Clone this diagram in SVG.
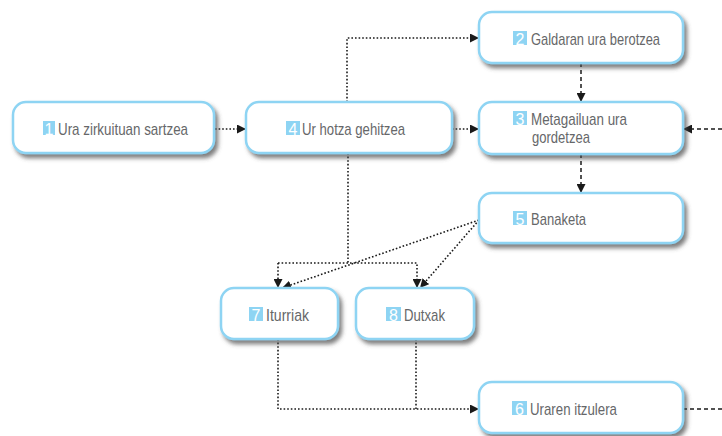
<svg xmlns="http://www.w3.org/2000/svg" width="722" height="436" viewBox="0 0 722 436">
  <defs>
    <filter id="shadow" x="-10%" y="-20%" width="130%" height="160%">
      <feDropShadow dx="3" dy="4" stdDeviation="2.2" flood-color="#4a4a4a" flood-opacity="0.7"/>
    </filter>
    <marker id="arrow" viewBox="0 0 10 10" refX="10" refY="5" markerWidth="9" markerHeight="9" markerUnits="userSpaceOnUse" orient="auto">
      <path d="M0,0 L10,5 L0,10 Z" fill="#1a1a1a"/>
    </marker>
  </defs>
  <style>
    .box { fill: #ffffff; stroke: #8ed4f3; stroke-width: 2.5; filter: url(#shadow); }
    .badge { fill: #8ed4f3; }
    .num { fill: #ffffff; font-family: "Liberation Sans Narrow", "Liberation Sans", sans-serif; font-size: 16px; text-anchor: middle; }
    .lbl { fill: #666769; font-family: "Liberation Sans Narrow", "Liberation Sans", sans-serif; font-size: 17px; }
    .dot { fill: none; stroke: #1a1a1a; stroke-width: 1.6; stroke-dasharray: 1.6 2; }
    .dash { fill: none; stroke: #1a1a1a; stroke-width: 1.5; stroke-dasharray: 4 3; }
  </style>

  <g id="connectors">
    <path class="dot" d="M215,129 H246" marker-end="url(#arrow)"/>
    <path class="dot" d="M452,129 H479" marker-end="url(#arrow)"/>
    <path class="dot" d="M347,102 V38 H479" marker-end="url(#arrow)"/>
    <path class="dash" d="M581,63 V102" marker-end="url(#arrow)"/>
    <path class="dash" d="M581,154 V193" marker-end="url(#arrow)"/>
    <path class="dash" d="M722,129 H683" marker-end="url(#arrow)"/>
    <path class="dash" d="M683,409 H722"/>
    <path class="dot" d="M348,153 V263"/>
    <path class="dot" d="M278,263 H417 V288" marker-end="url(#arrow)"/>
    <path class="dot" d="M278,263 V288" marker-end="url(#arrow)"/>
    <path class="dot" d="M479,220 L282,288" marker-end="url(#arrow)"/>
    <path class="dot" d="M479,220 L420,288" marker-end="url(#arrow)"/>
    <path class="dot" d="M278,339 V409 H479" marker-end="url(#arrow)"/>
    <path class="dot" d="M416,339 V409"/>
  </g>

  <g id="n1">
    <rect class="box" x="13" y="102" width="201" height="51" rx="13"/>
    <rect class="badge" x="43" y="121" width="12" height="14"/>
    <text class="num" x="49" y="134.5">1</text>
    <text class="lbl" x="58" y="134.5" textLength="130" lengthAdjust="spacingAndGlyphs">Ura zirkuituan sartzea</text>
  </g>
  <g id="n4">
    <rect class="box" x="246" y="102" width="206" height="51" rx="13"/>
    <rect class="badge" x="286" y="121" width="14" height="14"/>
    <text class="num" x="293" y="134.5">4</text>
    <text class="lbl" x="302" y="134.5" textLength="103" lengthAdjust="spacingAndGlyphs">Ur hotza gehitzea</text>
  </g>
  <g id="n2">
    <rect class="box" x="479" y="12" width="204" height="51" rx="13"/>
    <rect class="badge" x="513" y="31" width="14" height="14"/>
    <text class="num" x="520" y="44.5">2</text>
    <text class="lbl" x="531" y="44.5" textLength="129" lengthAdjust="spacingAndGlyphs">Galdaran ura berotzea</text>
  </g>
  <g id="n3">
    <rect class="box" x="479" y="102" width="204" height="52" rx="13"/>
    <rect class="badge" x="513" y="111" width="14" height="14"/>
    <text class="num" x="520" y="124.5">3</text>
    <text class="lbl" x="531" y="124.5" textLength="96" lengthAdjust="spacingAndGlyphs">Metagailuan ura</text>
    <text class="lbl" x="532" y="142.5" textLength="58" lengthAdjust="spacingAndGlyphs">gordetzea</text>
  </g>
  <g id="n5">
    <rect class="box" x="479" y="193" width="204" height="50" rx="13"/>
    <rect class="badge" x="513" y="211" width="14" height="14"/>
    <text class="num" x="520" y="224.5">5</text>
    <text class="lbl" x="531" y="224.5" textLength="55" lengthAdjust="spacingAndGlyphs">Banaketa</text>
  </g>
  <g id="n7">
    <rect class="box" x="221" y="288" width="117" height="51" rx="13"/>
    <rect class="badge" x="249" y="307" width="14" height="14"/>
    <text class="num" x="256" y="320.5">7</text>
    <text class="lbl" x="266" y="320.5" textLength="43" lengthAdjust="spacingAndGlyphs">Iturriak</text>
  </g>
  <g id="n8">
    <rect class="box" x="356" y="288" width="118" height="51" rx="13"/>
    <rect class="badge" x="386" y="307" width="15" height="14"/>
    <text class="num" x="393.5" y="320.5">8</text>
    <text class="lbl" x="404" y="320.5" textLength="41" lengthAdjust="spacingAndGlyphs">Dutxak</text>
  </g>
  <g id="n6">
    <rect class="box" x="479" y="382" width="204" height="51" rx="13"/>
    <rect class="badge" x="512" y="401" width="15" height="14"/>
    <text class="num" x="519.5" y="414.5">6</text>
    <text class="lbl" x="530" y="414.5" textLength="87" lengthAdjust="spacingAndGlyphs">Uraren itzulera</text>
  </g>
</svg>
